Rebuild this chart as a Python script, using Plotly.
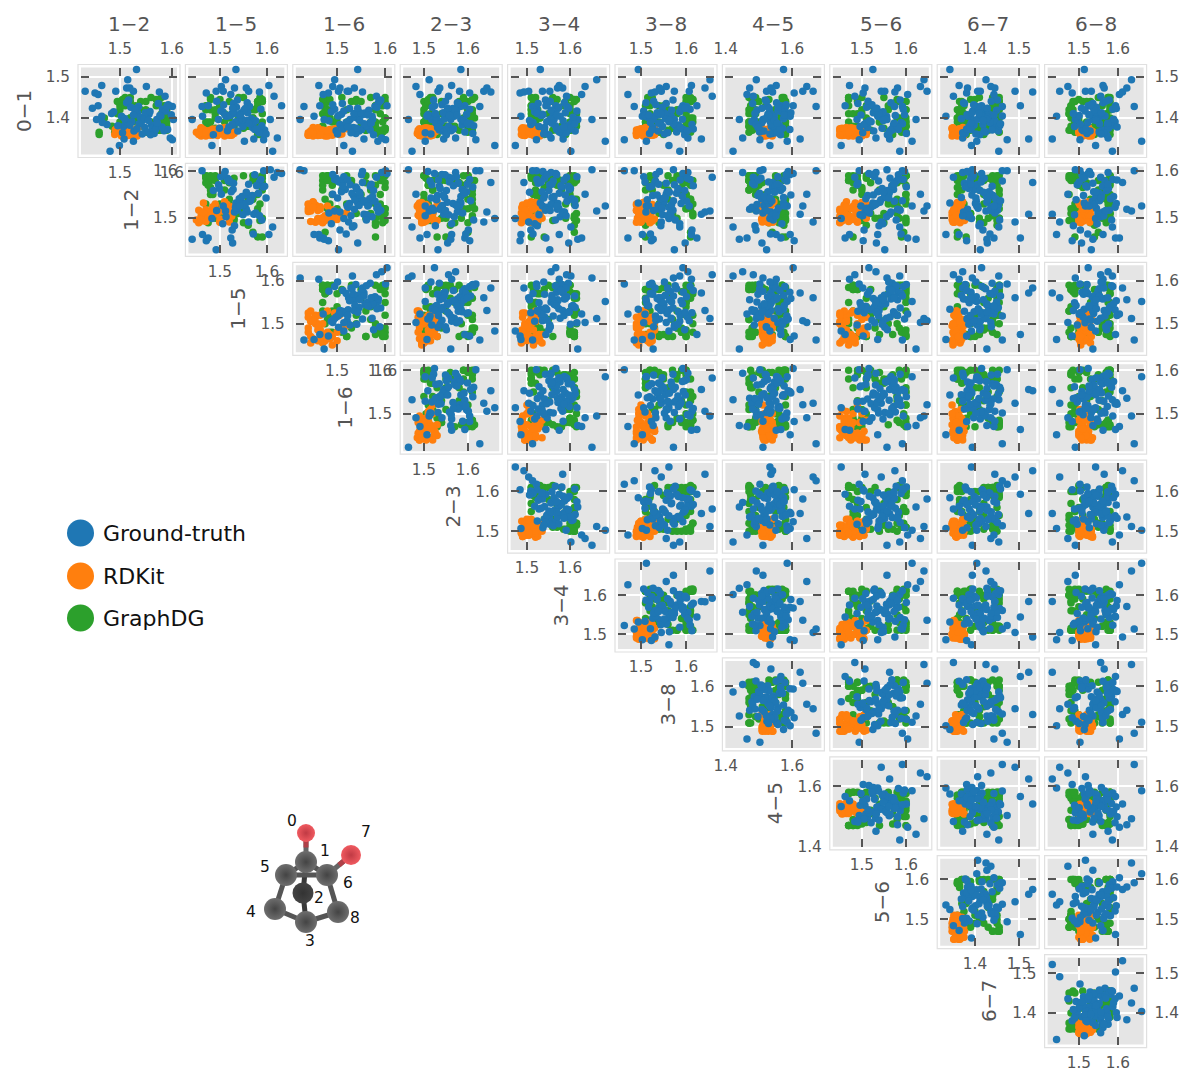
import plotly.graph_objects as go

W, H = 1183, 1073
col_bonds = ["1-2","1-5","1-6","2-3","3-4","3-8","4-5","5-6","6-7","6-8"]
row_bonds = ["0-1","1-2","1-5","1-6","2-3","3-4","3-8","4-5","5-6","6-7"]
limits = {"0-1":(1.311,1.523),"1-2":(1.425,1.610),"1-5":(1.433,1.637),"1-6":(1.414,1.614),
          "2-3":(1.453,1.671),"3-4":(1.462,1.685),"3-8":(1.449,1.662),"4-5":(1.399,1.688),
          "5-6":(1.434,1.652),"6-7":(1.321,1.539),"6-8":(1.420,1.666)}
ticks = {"0-1":(1.4,1.5),"1-2":(1.5,1.6),"1-5":(1.5,1.6),"1-6":(1.5,1.6),"2-3":(1.5,1.6),"3-4":(1.5,1.6),
         "3-8":(1.5,1.6),"4-5":(1.4,1.6),"5-6":(1.5,1.6),"6-7":(1.4,1.5),"6-8":(1.5,1.6)}

gt = {
"0-1":[1.465,1.461,1.457,1.479,1.465,1.493,1.518,1.319,1.333,1.349,1.343,1.347,1.351,1.477,1.463,1.453,1.430,1.428,1.396,1.430,1.396,1.404,1.473,1.473,1.465,
1.412,1.383,1.377,1.404,1.421,1.368,1.396,1.437,1.409,1.372,1.388,1.415,1.362,1.391,1.428,1.405,1.379,1.366,1.417,1.444,1.398,1.384,1.371,1.423,1.408,1.393,1.359,1.402,1.435,1.381,1.413,1.369,1.426,1.389,1.375,1.419,1.406,1.364,1.397,1.432,1.386,1.411,1.373,1.441,1.394,1.378,1.407,1.361,1.424,1.387,1.399,1.416,1.374,1.429,1.382],
"1-2":[1.433,1.452,1.458,1.465,1.492,1.515,1.532,1.481,1.499,1.508,1.526,1.601,1.597,1.551,1.576,1.587,1.595,1.601,1.603,1.458,1.455,1.465,1.513,1.519,1.526,
1.534,1.561,1.548,1.503,1.582,1.527,1.571,1.513,1.556,1.592,1.541,1.488,1.566,1.523,1.536,1.579,1.507,1.553,1.588,1.517,1.544,1.475,1.568,1.531,1.599,1.511,1.559,1.539,1.574,1.496,1.549,1.585,1.521,1.466,1.563,1.529,1.577,1.505,1.546,1.593,1.537,1.484,1.569,1.516,1.555,1.581,1.526,1.543,1.447,1.572,1.509,1.558,1.533,1.591,1.519],
"1-5":[1.492,1.471,1.523,1.604,1.561,1.512,1.534,1.612,1.483,1.572,1.552,1.593,1.622,1.503,1.584,1.615,1.631,1.462,1.607,1.475,1.441,1.463,1.531,1.556,1.507,
1.545,1.528,1.569,1.513,1.587,1.538,1.497,1.558,1.524,1.574,1.541,1.506,1.592,1.533,1.563,1.518,1.549,1.582,1.502,1.537,1.567,1.526,1.595,1.554,1.511,1.576,1.486,1.543,1.529,1.589,1.559,1.516,1.535,1.571,1.499,1.551,1.522,1.584,1.547,1.508,1.565,1.531,1.578,1.493,1.556,1.519,1.542,1.598,1.527,1.561],
"1-6":[1.503,1.482,1.471,1.462,1.524,1.495,1.543,1.532,1.514,1.556,1.585,1.601,1.593,1.491,1.553,1.582,1.604,1.431,1.423,1.464,1.473,1.452,1.506,1.536,1.521,
1.558,1.517,1.534,1.573,1.495,1.546,1.527,1.586,1.509,1.551,1.568,1.488,1.539,1.523,1.579,1.502,1.562,1.531,1.514,1.591,1.544,1.506,1.569,1.526,1.553,1.483,1.576,1.537,1.511,1.561,1.548,1.498,1.583,1.519,1.541,1.566,1.504,1.529,1.574,1.491,1.556,1.535,1.512,1.589,1.547,1.522,1.564,1.501,1.543,1.571],
"2-3":[1.532,1.604,1.491,1.563,1.636,1.512,1.584,1.473,1.661,1.545,1.503,1.618,1.572,1.482,1.652,1.556,1.524,1.627,1.465,1.593,1.561,1.507,1.643,1.536,1.581,
1.553,1.587,1.531,1.569,1.604,1.542,1.518,1.576,1.597,1.548,1.527,1.563,1.611,1.539,1.582,1.514,1.556,1.593,1.574,1.522,1.547,1.601,1.535,1.566,1.509,1.588,1.551,1.529,1.578,1.613,1.544,1.562,1.519,1.595,1.537,1.571,1.558,1.503,1.584,1.541,1.606,1.526,1.567,1.549,1.591,1.533,1.575,1.516,1.554,1.599],
"3-4":[1.553,1.484,1.627,1.575,1.504,1.662,1.531,1.602,1.473,1.584,1.682,1.522,1.556,1.635,1.493,1.592,1.567,1.513,1.651,1.544,1.618,1.486,1.583,1.571,1.536,
1.564,1.598,1.541,1.577,1.523,1.612,1.553,1.587,1.535,1.569,1.604,1.518,1.581,1.546,1.593,1.561,1.528,1.575,1.616,1.543,1.558,1.509,1.596,1.572,1.537,1.584,1.551,1.607,1.526,1.566,1.589,1.541,1.574,1.514,1.601,1.556,1.533,1.591,1.563,1.547,1.611,1.524,1.579,1.554,1.506,1.586,1.569,1.539,1.597,1.558],
"3-8":[1.574,1.523,1.471,1.612,1.545,1.653,1.494,1.586,1.562,1.634,1.512,1.463,1.604,1.556,1.531,1.658,1.593,1.485,1.572,1.624,1.527,1.503,1.642,1.541,1.607,
1.551,1.583,1.526,1.567,1.609,1.538,1.574,1.511,1.558,1.594,1.543,1.586,1.519,1.562,1.601,1.532,1.548,1.579,1.506,1.571,1.554,1.613,1.524,1.589,1.541,1.565,1.597,1.514,1.556,1.576,1.536,1.603,1.547,1.521,1.582,1.568,1.509,1.559,1.592,1.533,1.572,1.544,1.616,1.528,1.563,1.587,1.517,1.552,1.598,1.539],
"4-5":[1.523,1.606,1.464,1.552,1.663,1.492,1.574,1.422,1.533,1.624,1.585,1.503,1.451,1.644,1.541,1.483,1.603,1.672,1.512,1.566,1.441,1.594,1.536,1.472,1.632,
1.534,1.561,1.497,1.546,1.578,1.515,1.486,1.553,1.527,1.593,1.508,1.569,1.541,1.479,1.526,1.584,1.537,1.502,1.557,1.519,1.574,1.491,1.548,1.531,1.588,1.512,1.565,1.524,1.481,1.543,1.596,1.506,1.558,1.535,1.571,1.494,1.529,1.551,1.516,1.582,1.539,1.488,1.563,1.522,1.547,1.499,1.576,1.533,1.509,1.555],
"5-6":[1.552,1.503,1.604,1.472,1.544,1.641,1.525,1.586,1.453,1.563,1.614,1.494,1.532,1.633,1.575,1.484,1.516,1.592,1.557,1.462,1.623,1.536,1.507,1.581,1.648,
1.541,1.572,1.513,1.556,1.594,1.527,1.489,1.566,1.536,1.583,1.509,1.548,1.601,1.521,1.574,1.538,1.496,1.562,1.529,1.587,1.551,1.505,1.569,1.534,1.597,1.517,1.558,1.543,1.491,1.578,1.526,1.564,1.511,1.589,1.546,1.531,1.576,1.502,1.554,1.523,1.592,1.539,1.568,1.514,1.549,1.581,1.498,1.561,1.533,1.573],
"6-7":[1.412,1.381,1.443,1.364,1.491,1.425,1.343,1.454,1.392,1.522,1.404,1.473,1.372,1.436,1.531,1.351,1.415,1.462,1.394,1.503,1.427,1.334,1.445,1.383,1.406,
1.427,1.398,1.441,1.383,1.416,1.453,1.405,1.374,1.432,1.391,1.447,1.412,1.378,1.436,1.403,1.462,1.387,1.424,1.395,1.451,1.369,1.418,1.439,1.401,1.382,1.445,1.411,1.429,1.376,1.456,1.393,1.421,1.407,1.434,1.386,1.449,1.414,1.372,1.426,1.397,1.458,1.409,1.381,1.437,1.419,1.389,1.443,1.402,1.428,1.391],
"6-8":[1.532,1.483,1.604,1.562,1.451,1.635,1.514,1.586,1.543,1.432,1.661,1.503,1.575,1.472,1.612,1.556,1.524,1.642,1.491,1.594,1.536,1.443,1.565,1.623,1.517,
1.541,1.573,1.512,1.556,1.587,1.529,1.496,1.562,1.538,1.508,1.581,1.547,1.521,1.593,1.534,1.567,1.489,1.552,1.516,1.578,1.543,1.504,1.561,1.596,1.527,1.549,1.571,1.493,1.536,1.584,1.558,1.511,1.545,1.523,1.576,1.539,1.501,1.564,1.589,1.531,1.553,1.486,1.518,1.569,1.544,1.598,1.526,1.557,1.507,1.574],
}
rdkit = {
"0-1":[1.358,1.372,1.364,1.356,1.375,1.362,1.368,1.360,1.377,1.366,1.358,1.370,1.374,1.362,1.356,1.369,1.365,1.373,1.360,1.364,1.371,1.358,1.367,1.376,1.361,1.356,1.369,1.363,1.374,1.359,1.366,1.372,1.360,1.368,1.357,1.375,1.363,1.370,1.358,1.365],
"1-2":[1.518,1.492,1.530,1.505,1.498,1.525,1.510,1.490,1.535,1.500,1.520,1.494,1.512,1.528,1.503,1.515,1.496,1.522,1.507,1.532,1.491,1.514,1.526,1.499,1.509,1.533,1.495,1.517,1.504,1.524,1.492,1.511,1.529,1.501,1.516,1.497,1.523,1.506,1.519,1.493],
"1-5":[1.47,1.52,1.49,1.46,1.50,1.53,1.48,1.455,1.51,1.475,1.525,1.46,1.495,1.515,1.47,1.505,1.45,1.485,1.52,1.465,1.50,1.48,1.53,1.46,1.49,1.51,1.47,1.455,1.525,1.485,1.50,1.465,1.515,1.475,1.495,1.46,1.505,1.48,1.52,1.47],
"1-6":[1.49,1.455,1.44,1.475,1.46,1.445,1.50,1.47,1.45,1.485,1.44,1.465,1.52,1.455,1.48,1.445,1.49,1.46,1.505,1.45,1.47,1.44,1.48,1.46,1.51,1.45,1.475,1.445,1.495,1.465,1.455,1.485,1.44,1.47,1.46,1.50,1.45,1.48,1.465,1.445],
"2-3":[1.505,1.525,1.49,1.515,1.50,1.485,1.52,1.495,1.53,1.51,1.49,1.505,1.52,1.487,1.50,1.515,1.495,1.525,1.51,1.49,1.50,1.52,1.488,1.505,1.515,1.495,1.53,1.50,1.49,1.51,1.525,1.497,1.505,1.52,1.49,1.51,1.50,1.487,1.515,1.495],
"3-4":[1.49,1.515,1.505,1.53,1.495,1.52,1.50,1.487,1.51,1.535,1.495,1.525,1.50,1.49,1.52,1.505,1.515,1.488,1.53,1.50,1.51,1.495,1.525,1.49,1.505,1.52,1.50,1.535,1.49,1.515,1.505,1.487,1.51,1.528,1.495,1.50,1.52,1.49,1.515,1.505],
"3-8":[1.525,1.50,1.49,1.515,1.53,1.505,1.495,1.52,1.51,1.492,1.505,1.525,1.50,1.49,1.515,1.52,1.495,1.53,1.505,1.51,1.49,1.525,1.50,1.515,1.495,1.505,1.52,1.49,1.51,1.53,1.50,1.495,1.525,1.505,1.49,1.515,1.50,1.52,1.51,1.495],
"4-5":[1.525,1.51,1.54,1.52,1.508,1.535,1.515,1.53,1.545,1.51,1.52,1.535,1.512,1.528,1.54,1.518,1.51,1.53,1.525,1.515,1.542,1.52,1.51,1.535,1.528,1.512,1.54,1.518,1.53,1.51,1.525,1.535,1.515,1.52,1.51,1.54,1.53,1.518,1.525,1.512],
"5-6":[1.46,1.49,1.505,1.47,1.455,1.48,1.50,1.45,1.465,1.51,1.475,1.455,1.49,1.46,1.48,1.45,1.47,1.505,1.465,1.485,1.45,1.495,1.46,1.475,1.455,1.50,1.47,1.485,1.45,1.465,1.49,1.46,1.51,1.475,1.455,1.48,1.465,1.495,1.45,1.47],
"6-7":[1.37,1.354,1.36,1.348,1.375,1.358,1.35,1.366,1.372,1.352,1.36,1.368,1.348,1.356,1.374,1.362,1.35,1.37,1.355,1.365,1.352,1.372,1.358,1.35,1.368,1.36,1.376,1.352,1.364,1.356,1.35,1.37,1.36,1.354,1.374,1.348,1.366,1.358,1.352,1.362],
"6-8":[1.53,1.505,1.52,1.51,1.50,1.535,1.515,1.505,1.525,1.50,1.53,1.512,1.52,1.503,1.532,1.51,1.505,1.522,1.515,1.50,1.528,1.508,1.535,1.518,1.503,1.525,1.51,1.53,1.505,1.52,1.50,1.515,1.532,1.508,1.525,1.503,1.518,1.53,1.51,1.505],
}
graphdg = {
"0-1":[1.37,1.44,1.38,1.43,1.365,1.445,1.40,1.42,1.375,1.45,1.39,1.37,1.44,1.41,1.38,1.36,1.43,1.40,1.37,1.445,1.39,1.42,1.375,1.44,1.41,1.365,1.38,1.43,1.40,1.37,1.45,1.39,1.42,1.38,1.44,1.365,1.41,1.45,1.375,1.39,1.43,1.36,1.42,1.38,1.445,1.40,1.37,1.44,1.39,1.41,1.365,1.45,1.38,1.43,1.37,1.40,1.44,1.375,1.42,1.39],
"1-2":[1.58,1.52,1.50,1.585,1.56,1.51,1.59,1.55,1.49,1.58,1.53,1.575,1.50,1.59,1.54,1.46,1.57,1.52,1.585,1.505,1.56,1.59,1.51,1.575,1.495,1.55,1.58,1.53,1.47,1.59,1.52,1.57,1.50,1.58,1.54,1.49,1.59,1.51,1.565,1.58,1.50,1.53,1.59,1.485,1.57,1.52,1.585,1.55,1.50,1.58,1.46,1.56,1.59,1.51,1.575,1.53,1.495,1.58,1.54,1.59],
"1-5":[1.48,1.58,1.53,1.47,1.59,1.50,1.57,1.48,1.55,1.585,1.47,1.52,1.59,1.49,1.56,1.58,1.475,1.54,1.59,1.48,1.51,1.575,1.47,1.59,1.53,1.485,1.58,1.50,1.57,1.47,1.55,1.59,1.49,1.58,1.52,1.475,1.59,1.54,1.48,1.57,1.50,1.585,1.47,1.56,1.59,1.49,1.53,1.58,1.475,1.51,1.59,1.48,1.55,1.58,1.47,1.52,1.585,1.49,1.57,1.48],
"1-6":[1.59,1.48,1.56,1.595,1.47,1.54,1.60,1.49,1.58,1.475,1.52,1.60,1.48,1.59,1.55,1.47,1.58,1.50,1.595,1.485,1.57,1.48,1.60,1.53,1.47,1.59,1.51,1.58,1.475,1.56,1.60,1.49,1.58,1.47,1.54,1.595,1.48,1.57,1.60,1.50,1.475,1.59,1.52,1.58,1.47,1.60,1.49,1.55,1.595,1.48,1.58,1.51,1.47,1.59,1.56,1.485,1.60,1.53,1.475,1.58],
"2-3":[1.51,1.60,1.55,1.505,1.61,1.52,1.59,1.50,1.57,1.615,1.51,1.60,1.54,1.50,1.61,1.53,1.59,1.505,1.56,1.61,1.52,1.60,1.50,1.58,1.515,1.61,1.55,1.505,1.60,1.53,1.59,1.51,1.61,1.57,1.50,1.60,1.54,1.515,1.61,1.52,1.585,1.505,1.60,1.56,1.51,1.615,1.53,1.59,1.50,1.61,1.55,1.52,1.60,1.505,1.58,1.61,1.51,1.54,1.60,1.50],
"3-4":[1.60,1.52,1.61,1.51,1.58,1.615,1.53,1.60,1.51,1.56,1.61,1.52,1.59,1.51,1.615,1.54,1.60,1.515,1.57,1.61,1.52,1.60,1.51,1.55,1.615,1.53,1.59,1.51,1.61,1.56,1.52,1.60,1.51,1.58,1.61,1.525,1.60,1.51,1.54,1.615,1.52,1.59,1.51,1.61,1.57,1.53,1.60,1.515,1.61,1.55,1.51,1.60,1.52,1.585,1.61,1.51,1.56,1.60,1.525,1.61],
"3-8":[1.53,1.61,1.51,1.60,1.56,1.615,1.52,1.59,1.51,1.61,1.54,1.60,1.52,1.58,1.61,1.51,1.55,1.60,1.525,1.615,1.51,1.59,1.57,1.61,1.52,1.60,1.53,1.51,1.61,1.56,1.60,1.52,1.58,1.51,1.61,1.54,1.60,1.515,1.59,1.615,1.52,1.55,1.60,1.51,1.61,1.53,1.58,1.60,1.51,1.57,1.61,1.525,1.60,1.54,1.51,1.615,1.52,1.59,1.56,1.60],
"4-5":[1.57,1.48,1.55,1.58,1.47,1.53,1.575,1.49,1.56,1.47,1.58,1.51,1.57,1.48,1.54,1.58,1.475,1.56,1.50,1.575,1.47,1.55,1.58,1.49,1.57,1.52,1.47,1.58,1.54,1.48,1.575,1.50,1.56,1.47,1.58,1.53,1.49,1.57,1.475,1.55,1.58,1.51,1.47,1.575,1.48,1.56,1.58,1.50,1.54,1.47,1.57,1.49,1.58,1.52,1.475,1.56,1.58,1.48,1.55,1.47],
"5-6":[1.59,1.49,1.60,1.51,1.48,1.58,1.60,1.50,1.55,1.47,1.60,1.52,1.585,1.49,1.60,1.48,1.57,1.51,1.595,1.47,1.54,1.60,1.49,1.58,1.50,1.60,1.48,1.56,1.595,1.51,1.47,1.60,1.53,1.49,1.58,1.60,1.48,1.55,1.50,1.595,1.47,1.57,1.60,1.51,1.49,1.585,1.48,1.60,1.54,1.47,1.59,1.50,1.60,1.52,1.48,1.58,1.60,1.49,1.56,1.47],
"6-7":[1.36,1.45,1.41,1.37,1.455,1.39,1.44,1.36,1.42,1.45,1.375,1.40,1.455,1.365,1.43,1.38,1.45,1.36,1.41,1.44,1.37,1.455,1.39,1.365,1.45,1.42,1.37,1.44,1.36,1.40,1.455,1.38,1.43,1.365,1.45,1.41,1.375,1.44,1.36,1.39,1.455,1.42,1.37,1.45,1.40,1.365,1.43,1.455,1.38,1.44,1.36,1.41,1.45,1.375,1.39,1.455,1.37,1.42,1.44,1.36],
"6-8":[1.55,1.49,1.58,1.48,1.57,1.50,1.58,1.475,1.53,1.575,1.49,1.58,1.51,1.48,1.57,1.54,1.58,1.48,1.50,1.575,1.56,1.485,1.58,1.52,1.475,1.57,1.49,1.58,1.55,1.48,1.575,1.50,1.58,1.48,1.53,1.57,1.475,1.58,1.51,1.49,1.56,1.58,1.48,1.54,1.575,1.50,1.475,1.58,1.52,1.57,1.49,1.55,1.58,1.48,1.51,1.575,1.485,1.56,1.58,1.50],
}
series = [("GraphDG", graphdg, "#2ca02c"), ("RDKit", rdkit, "#ff7f0e"), ("Ground-truth", gt, "#1f77b4")]

legend_names = ["Ground-truth", "RDKit", "GraphDG"]
legend_colors = ["#1f77b4", "#ff7f0e", "#2ca02c"]
legend_y = [533, 576, 618]

atom_ids = [0, 1, 2, 3, 4, 5, 6, 7, 8]
atom_x = [306, 306, 303, 306, 275, 286, 327, 351, 338]
atom_y = [833, 862, 893, 922, 909, 875, 875, 855, 912]
atom_sizes = [18, 22, 21, 22, 22, 22, 22, 20, 22]
atom_label_x = [292, 325, 319, 310, 251, 265, 348, 366, 355]
atom_label_y = [821, 851, 898, 941, 912, 867, 883, 832, 918]
bonds = [(1,5),(1,6),(3,4),(3,8),(4,5),(5,6),(6,8)]
back_bonds = [(1,2),(2,3)]
oxygen_bonds = [(0,1),(6,7)]

L0, LSTEP, PW = 81.0, 107.4, 96.0
T0, TSTEP, PH = 67.5, 98.9, 87.0
TICKFONT = dict(family="DejaVu Sans", size=15.3, color="#555555")

fig = go.Figure()
layout = {}
shapes, annots = [], []
ax = 0

def xd(l): return [l / W, (l + PW) / W]
def yd(t): return [1 - (t + PH) / H, 1 - t / H]

def new_id():
    global ax
    ax += 1
    return ax

def label_x(main_x, main_y, bond, l, side, standoff):
    i = new_id()
    layout[f"xaxis{i}"] = dict(domain=xd(l), range=list(limits[bond]), anchor=f"y{main_y}", overlaying=f"x{main_x}",
        side=side, tickvals=list(ticks[bond]), ticktext=[f"{v:.1f}" for v in ticks[bond]], ticks="", showgrid=False,
        zeroline=False, showline=False, tickfont=TICKFONT, ticklabelstandoff=standoff)
    fig.add_trace(go.Scatter(x=[], y=[], xaxis=f"x{i}", yaxis=f"y{main_y}", showlegend=False))

def label_y(main_x, main_y, bond, t, side, standoff):
    i = new_id()
    layout[f"yaxis{i}"] = dict(domain=yd(t), range=list(limits[bond]), anchor=f"x{main_x}", overlaying=f"y{main_y}",
        side=side, tickvals=list(ticks[bond]), ticktext=[f"{v:.1f}" for v in ticks[bond]], ticks="", showgrid=False,
        zeroline=False, showline=False, tickfont=TICKFONT, ticklabelstandoff=standoff)
    fig.add_trace(go.Scatter(x=[], y=[], xaxis=f"x{main_x}", yaxis=f"y{i}", showlegend=False))

for r, rb in enumerate(row_bonds):
    t = T0 + TSTEP * r
    for c, cb in enumerate(col_bonds):
        if c < r:
            continue
        l = L0 + LSTEP * c
        i = new_id()
        common = dict(ticks="inside", ticklen=8, tickwidth=2.2, tickcolor="#555555", mirror="ticks", showline=False,
                      showgrid=True, gridcolor="white", gridwidth=1.6, zeroline=False, showticklabels=False)
        layout[f"xaxis{i}"] = dict(domain=xd(l), range=list(limits[cb]), anchor=f"y{i}", tickvals=list(ticks[cb]), **common)
        layout[f"yaxis{i}"] = dict(domain=yd(t), range=list(limits[rb]), anchor=f"x{i}", tickvals=list(ticks[rb]), **common)
        shapes.append(dict(type="rect", xref="paper", yref="paper", layer="below",
            x0=(l-3)/W, x1=(l+PW+3)/W, y0=1-(t+PH+3)/H, y1=1-(t-3)/H, fillcolor="white",
            line=dict(color="#e0e0e0", width=1.2)))
        shapes.append(dict(type="rect", xref="paper", yref="paper", layer="below",
            x0=l/W, x1=(l+PW)/W, y0=1-(t+PH)/H, y1=1-t/H, fillcolor="#e5e5e5", line=dict(width=0)))
        for name, d, color in series:
            n = min(len(d[cb]), len(d[rb]))
            fig.add_trace(go.Scatter(x=d[cb][:n], y=d[rb][:n], mode="markers", xaxis=f"x{i}", yaxis=f"y{i}", showlegend=False,
                                     name=name, cliponaxis=False, marker=dict(color=color, size=7.5, line=dict(width=0))))
        if r == 0:
            label_x(i, i, cb, l, "top", 9)
        if c == r:
            label_x(i, i, cb, l, "bottom", 7)
            label_y(i, i, rb, t, "left", 10)
        if c == 9:
            label_y(i, i, rb, t, "right", 10)

TITLE = dict(family="DejaVu Sans", size=20, color="#555555")
for c, cb in enumerate(col_bonds):
    annots.append(dict(xref="paper", yref="paper", x=(L0 + LSTEP*c + PW/2)/W, y=1-24/H, text=cb.replace("-", "−"),
                       showarrow=False, font=TITLE, xanchor="center", yanchor="middle"))
row_title_x = [24, 131, 238, 345, 453, 560, 668, 775, 882, 989]
for r, rb in enumerate(row_bonds):
    annots.append(dict(xref="paper", yref="paper", x=row_title_x[r]/W, y=1-(T0 + TSTEP*r + PH/2)/H, text=rb.replace("-", "−"),
                       showarrow=False, font=TITLE, textangle=-90, xanchor="center", yanchor="middle"))

# overlay axes in page pixels: legend and molecule sketch
o = new_id()
layout[f"xaxis{o}"] = dict(domain=[0, 1], range=[0, W], visible=False, anchor=f"y{o}", fixedrange=True)
layout[f"yaxis{o}"] = dict(domain=[0, 1], range=[H, 0], visible=False, anchor=f"x{o}", fixedrange=True)
OV = dict(xaxis=f"x{o}", yaxis=f"y{o}", showlegend=False)

for nm, col, y in zip(legend_names, legend_colors, legend_y):
    fig.add_trace(go.Scatter(x=[80.5], y=[y], mode="markers", marker=dict(size=27, color=col, line=dict(width=0)), name=nm, **OV))
    annots.append(dict(xref=f"x{o}", yref=f"y{o}", x=101, y=y, text=nm, showarrow=False, xanchor="left", yanchor="middle",
                       font=dict(family="DejaVu Sans", size=22, color="#111111")))

def bond_line(a, b, color, width):
    return go.Scatter(x=[atom_x[a], atom_x[b]], y=[atom_y[a], atom_y[b]], mode="lines", line=dict(color=color, width=width), **OV)

for a, b in back_bonds:
    fig.add_trace(bond_line(a, b, "#3a3a3a", 5))
fig.add_trace(go.Scatter(x=[atom_x[2]], y=[atom_y[2]], mode="markers",
    marker=dict(size=atom_sizes[2], color="#444444", opacity=1, gradient=dict(type="radial", color="#333333"), line=dict(width=0)), **OV))
for a, b in bonds:
    fig.add_trace(bond_line(a, b, "#555555", 5))
for a, b in oxygen_bonds:
    fig.add_trace(bond_line(a, b, "#666666", 5))
    ox = 0 if a == 0 else 7
    other = b if a == 0 else a
    fig.add_trace(go.Scatter(x=[atom_x[ox], (atom_x[ox]+atom_x[other])/2], y=[atom_y[ox], (atom_y[ox]+atom_y[other])/2],
                             mode="lines", line=dict(color="#b04048", width=5), **OV))
front = [k for k in atom_ids if k != 2]
fig.add_trace(go.Scatter(x=[atom_x[k] for k in front], y=[atom_y[k] for k in front], mode="markers",
    marker=dict(size=[atom_sizes[k] for k in front], opacity=1,
                color=["#f05a60" if k in (0, 7) else "#6e6e6e" for k in front],
                gradient=dict(type="radial", color=["#c03a44" if k in (0, 7) else "#444444" for k in front]),
                line=dict(width=0)), **OV))
for k, lx, ly in zip(atom_ids, atom_label_x, atom_label_y):
    annots.append(dict(xref=f"x{o}", yref=f"y{o}", x=lx, y=ly, text=str(k), showarrow=False, xanchor="center", yanchor="middle",
                       font=dict(family="DejaVu Sans", size=15.5, color="#111111")))

fig.update_layout(width=W, height=H, margin=dict(l=0, r=0, t=0, b=0, autoexpand=False), paper_bgcolor="white",
                  plot_bgcolor="rgba(0,0,0,0)", showlegend=False, shapes=shapes, annotations=annots, **layout)
fig.write_html("out.html", config=dict(displayModeBar=False), post_script="document.body.style.margin='0';")
